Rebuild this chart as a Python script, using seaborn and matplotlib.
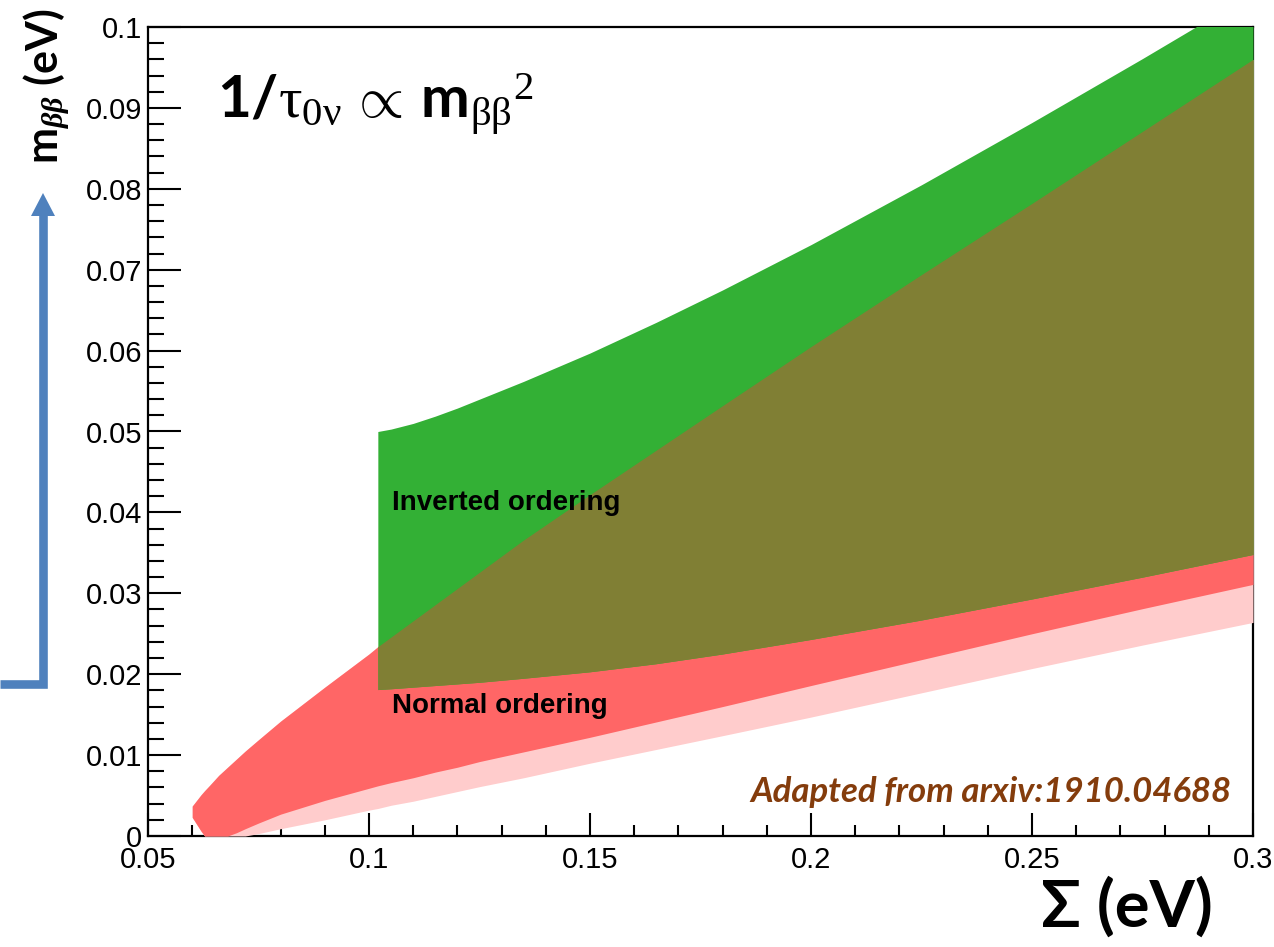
import numpy as np
import matplotlib
matplotlib.use("Agg")
import matplotlib.pyplot as plt
import seaborn as sns
from matplotlib.lines import Line2D
from matplotlib.patches import Polygon
from matplotlib.ticker import MultipleLocator

# ---- data (Sigma in eV, m_bb in eV) ----
# Normal ordering band
x_no = [0.060, 0.062, 0.0628, 0.064, 0.066, 0.068, 0.070, 0.072, 0.075, 0.080, 0.090, 0.100,
        0.102, 0.105, 0.110, 0.115, 0.120, 0.125, 0.135, 0.150, 0.165, 0.180,
        0.200, 0.225, 0.250, 0.275, 0.300]
no_upper = [0.0037, 0.0051, 0.0056, 0.0063, 0.0075, 0.0085, 0.0095, 0.0105, 0.0119, 0.0142, 0.0184, 0.0225,
            0.0234, 0.0246, 0.0266, 0.0286, 0.0306, 0.0326, 0.0366, 0.0422, 0.0477, 0.0532,
            0.0605, 0.0694, 0.0782, 0.0871, 0.0960]
no_lower = [0.0023, 0.0006, 0.0000, 0.0000, 0.0000, 0.0000, 0.0004, 0.0009, 0.0016, 0.0027, 0.0044, 0.0059,
            0.0062, 0.0066, 0.0072, 0.0079, 0.0085, 0.0092, 0.0104, 0.0122, 0.0141, 0.0160,
            0.0186, 0.0218, 0.0250, 0.0281, 0.0311]
no_lower_pale = [0.0023, 0.0006, 0.0000, 0.0000, 0.0000, 0.0000, 0.0000, 0.0000, 0.0003, 0.0009, 0.0020, 0.0032,
                 0.0034, 0.0038, 0.0043, 0.0049, 0.0055, 0.0061, 0.0072, 0.0090, 0.0107, 0.0124,
                 0.0147, 0.0177, 0.0207, 0.0236, 0.0264]

# Inverted ordering band
x_io = [0.102, 0.105, 0.110, 0.115, 0.120, 0.125, 0.135, 0.150, 0.165, 0.180,
        0.200, 0.225, 0.250, 0.275, 0.300]
io_upper = [0.0500, 0.0503, 0.0510, 0.0519, 0.0529, 0.0540, 0.0562, 0.0597, 0.0635, 0.0675,
            0.0731, 0.0805, 0.0882, 0.0961, 0.1042]
io_lower = [0.0181, 0.0182, 0.0184, 0.0186, 0.0188, 0.0190, 0.0195, 0.0203, 0.0213, 0.0225,
            0.0243, 0.0267, 0.0293, 0.0320, 0.0348]

x_ticks = [0.05, 0.10, 0.15, 0.20, 0.25, 0.30]
x_tick_labels = ["0.05", "0.1", "0.15", "0.2", "0.25", "0.3"]
y_ticks = [0.0, 0.01, 0.02, 0.03, 0.04, 0.05, 0.06, 0.07, 0.08, 0.09, 0.10]
y_tick_labels = ["0", "0.01", "0.02", "0.03", "0.04", "0.05", "0.06", "0.07", "0.08", "0.09", "0.1"]

RED = "#FF6666"
PINK = "#FFCCCC"
GREEN = "#33B035"
OLIVE = "#807F34"
BLUE = "#4F81BD"
BROWN = "#843C0C"

sns.set_theme(style="white")
plt.rcParams["font.family"] = ["Liberation Sans", "DejaVu Sans"]
plt.rcParams["text.color"] = "black"
plt.rcParams["axes.labelcolor"] = "black"
plt.rcParams["xtick.color"] = "black"
plt.rcParams["ytick.color"] = "black"
plt.rcParams["mathtext.fontset"] = "custom"
plt.rcParams["mathtext.rm"] = "Liberation Serif"
plt.rcParams["mathtext.it"] = "Liberation Serif:italic:bold"
plt.rcParams["mathtext.bf"] = "Lato:bold"

W, H = 1274, 947
fig = plt.figure(figsize=(W / 100, H / 100), dpi=100)
fig.patch.set_facecolor("white")
ax = fig.add_axes([148 / W, 1 - 836 / H, (1253 - 148) / W, (836 - 27) / H])

xn = np.array(x_no)
xi = np.array(x_io)
nu = np.array(no_upper)
# red upper bound at the IO sample points (these x values are all in x_no)
nu_at_io = np.array([nu[x_no.index(v)] for v in x_io])

ax.fill_between(xn, no_lower_pale, no_upper, color=PINK, lw=0, zorder=3)
ax.fill_between(xn, no_lower, no_upper, color=RED, lw=0, zorder=3.1)
ax.fill_between(xi, io_lower, io_upper, color=GREEN, lw=0, zorder=3.2)
ax.fill_between(xi, io_lower, nu_at_io, color=OLIVE, lw=0, zorder=3.3)

ax.set_xlim(0.05, 0.30)
ax.set_ylim(0.0, 0.10)
ax.set_xticks(x_ticks)
ax.set_xticklabels(x_tick_labels)
ax.set_yticks(y_ticks)
ax.set_yticklabels(y_tick_labels)
ax.xaxis.set_minor_locator(MultipleLocator(0.01))
ax.yaxis.set_minor_locator(MultipleLocator(0.002))

for s in ax.spines.values():
    s.set_color("black")
    s.set_linewidth(1.6)
    s.set_visible(True)

ax.tick_params(axis="both", which="both", direction="in", colors="black",
               left=True, bottom=True, top=False, right=False,
               labelsize=21, width=1.5)
ax.tick_params(axis="y", which="major", length=24, pad=4)
ax.tick_params(axis="y", which="minor", length=11.5)
ax.tick_params(axis="x", which="major", length=16.5, pad=7)
ax.tick_params(axis="x", which="minor", length=8)
ax.grid(False)

# in-plot labels
ax.text(0.1052, 0.0412, "Inverted ordering", fontsize=20, fontweight="bold",
        color="black", ha="left", va="center", zorder=5)
ax.text(0.1052, 0.0161, "Normal ordering", fontsize=20, fontweight="bold",
        color="black", ha="left", va="center", zorder=5)
ax.text(0.2952, 0.0054, "Adapted from arxiv:1910.04688", fontsize=25,
        fontweight="bold", fontstyle="italic", color=BROWN,
        family=["Lato", "DejaVu Sans"], ha="right", va="center", zorder=5)

# title formula
fig.text(217 / W, 1 - 119 / H,
         r"$\mathbf{1/}\mathrm{\tau_{0\nu}}\,\mathrm{\propto}\,\mathbf{m}_{\mathrm{\beta\beta}}{}^{\mathrm{2}}$",
         fontsize=42, color="black", ha="left", va="baseline")

# axis titles
fig.text(47 / W, 1 - 86 / H, r"$\mathbf{m}_{\beta\beta}$ (eV)", rotation=90,
         fontsize=31, fontweight="bold", family=["Lato", "DejaVu Sans"],
         color="black", ha="center", va="center")
fig.text(1127 / W, 1 - 907 / H, "\u03a3 (eV)", fontsize=47, fontweight="bold",
         family=["Lato", "DejaVu Sans"], color="black", ha="center", va="center")

# blue arrow on the left
tf = fig.transFigure
fig.add_artist(Line2D([0 / W, 43 / W, 43 / W],
                      [1 - 684 / H, 1 - 684 / H, 1 - 214 / H],
                      transform=tf, color=BLUE, lw=6.2,
                      solid_joinstyle="miter", solid_capstyle="butt"))
fig.add_artist(Polygon([[31 / W, 1 - 216 / H], [55 / W, 1 - 216 / H], [43 / W, 1 - 193 / H]],
                       closed=True, transform=tf, color=BLUE, lw=0))

fig.savefig("out.png", dpi=100, facecolor="white")
